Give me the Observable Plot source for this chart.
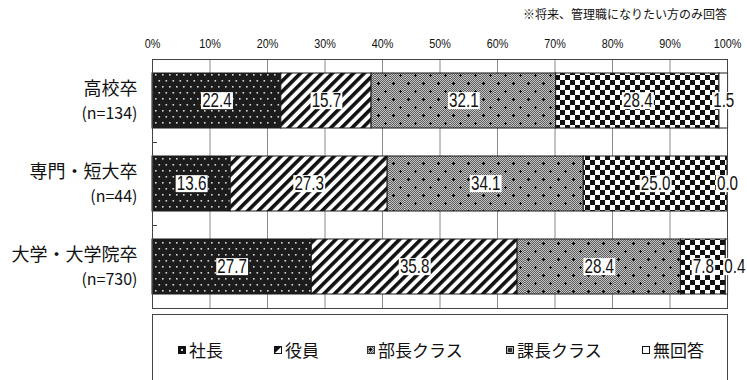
<!DOCTYPE html>
<html><head><meta charset="utf-8">
<script src="https://cdn.jsdelivr.net/npm/d3@7"></script>
<script src="https://cdn.jsdelivr.net/npm/@observablehq/plot@0.6"></script>
<style>
body{margin:0;background:#fff;}
#wrap{position:relative;width:747px;height:380px;overflow:hidden;font-family:"Noto Sans CJK JP",sans-serif;color:#111;}
#chart{position:absolute;left:0;top:0;}
#note{position:absolute;right:20px;top:6px;font-size:12px;line-height:16px;color:#111;white-space:nowrap;}
#legend{position:absolute;left:152px;top:314px;width:576px;height:90px;border:1.5px solid #444;box-sizing:border-box;}
.sw{position:absolute;top:31px;width:8px;height:8px;}
.lt{position:absolute;top:25px;font-size:17px;line-height:20px;white-space:nowrap;}
</style></head>
<body>
<div id="wrap">
  <div id="chart"></div>
  <div id="note">※将来、管理職になりたい方のみ回答</div>
  <div id="legend"></div>
</div>
<script>
const categories = ["高校卒", "専門・短大卒", "大学・大学院卒"];
const sampleSizes = ["(n=134)", "(n=44)", "(n=730)"];
const series = ["社長", "役員", "部長クラス", "課長クラス", "無回答"];
const valuesHighSchool = [22.4, 15.7, 32.1, 28.4, 1.5];
const valuesVocational = [13.6, 27.3, 34.1, 25.0, 0.0];
const valuesUniversity = [27.7, 35.8, 28.4, 7.8, 0.4];
const xTicks = [0, 10, 20, 30, 40, 50, 60, 70, 80, 90, 100];

const allValues = [valuesHighSchool, valuesVocational, valuesUniversity];
const rows = categories.flatMap((cat, i) =>
  series.map((s, j) => ({cat, series: s, value: allValues[i][j]})));

const sans = '"Liberation Sans",Arial,sans-serif';
const cjk = '"Noto Sans CJK JP",sans-serif';

const plot = Plot.plot({
  width: 747, height: 314,
  marginLeft: 152, marginRight: 20, marginTop: 59, marginBottom: 6,
  x: {domain: [0, 100], label: null},
  y: {domain: categories, paddingInner: 0.34, paddingOuter: 0.17, axis: null, label: null},
  color: {domain: series, range: series.map((s, i) => `url(#pat${i})`)},
  style: {background: "#fff", color: "#111"},
  marks: [
    Plot.gridX(xTicks, {stroke: "#8a8a8a", strokeOpacity: 1}),
    Plot.axisX(xTicks, {anchor: "top", tickSize: 0, tickPadding: 12, tickFormat: d => d + "%",
      fontSize: 13.5, fontFamily: sans, label: null}),
    Plot.barX(rows, {x: "value", y: "cat", fill: "series", order: series, stroke: "#1a1a1a", strokeWidth: 1}),
    Plot.frame({stroke: "#444"}),
    Plot.text(rows, Plot.stackX({x: "value", y: "cat", z: "series", order: series,
      text: d => d.value.toFixed(1), fontSize: 20, fontFamily: sans, fill: "#111"})),
    Plot.text(categories, {y: d => d, text: d => d, frameAnchor: "left", textAnchor: "end",
      dx: -15, dy: -12, fontSize: 18, fontFamily: cjk, fill: "#111"}),
    Plot.text(categories, {y: d => d, text: (d, i) => sampleSizes[i], frameAnchor: "left", textAnchor: "end",
      dx: -15, dy: 13, fontSize: 16, fontFamily: cjk, fill: "#111"})
  ]
});
document.getElementById("chart").appendChild(plot);

// patterns
const svg = d3.select(plot);
const defs = svg.insert("defs", ":first-child");
{
  const p = defs.append("pattern").attr("id", "pat0").attr("patternUnits", "userSpaceOnUse")
    .attr("width", 7).attr("height", 12);
  p.append("rect").attr("width", 7).attr("height", 12).attr("fill", "#1c1c1c");
  p.append("rect").attr("x", 1).attr("y", 2).attr("width", 1.6).attr("height", 1.6).attr("fill", "#d8d8d8");
  p.append("rect").attr("x", 4.5).attr("y", 8).attr("width", 1.6).attr("height", 1.6).attr("fill", "#d8d8d8");
}
{
  const p = defs.append("pattern").attr("id", "pat1").attr("patternUnits", "userSpaceOnUse")
    .attr("width", 7.5).attr("height", 7.5).attr("patternTransform", "rotate(45)");
  p.append("rect").attr("width", 7.5).attr("height", 7.5).attr("fill", "#fff");
  p.append("rect").attr("width", 3.6).attr("height", 7.5).attr("fill", "#111");
}
{
  const w = 15, h = 16;
  const p = defs.append("pattern").attr("id", "pat2").attr("patternUnits", "userSpaceOnUse")
    .attr("width", w).attr("height", h);
  p.append("rect").attr("width", w).attr("height", h).attr("fill", "#c4c4c4");
  for (let yy = 0; yy < h; yy++) for (let xx = (yy % 2); xx < w; xx += 2)
    p.append("rect").attr("x", xx).attr("y", yy).attr("width", 1).attr("height", 1).attr("fill", "#5e5e5e");
  for (const [cx, cy] of [[3, 3], [10, 11]]) {
    p.append("rect").attr("x", cx - 1).attr("y", cy).attr("width", 3).attr("height", 1).attr("fill", "#000");
    p.append("rect").attr("x", cx).attr("y", cy - 1).attr("width", 1).attr("height", 3).attr("fill", "#000");
  }
}
{
  const p = defs.append("pattern").attr("id", "pat3").attr("patternUnits", "userSpaceOnUse")
    .attr("width", 10).attr("height", 10);
  p.append("rect").attr("width", 10).attr("height", 10).attr("fill", "#fff");
  p.append("rect").attr("x", 0).attr("y", 0).attr("width", 5).attr("height", 5).attr("fill", "#111");
  p.append("rect").attr("x", 5).attr("y", 5).attr("width", 5).attr("height", 5).attr("fill", "#111");
}
{
  const p = defs.append("pattern").attr("id", "pat4").attr("patternUnits", "userSpaceOnUse")
    .attr("width", 4).attr("height", 4);
  p.append("rect").attr("width", 4).attr("height", 4).attr("fill", "#fff");
}

// horizontally condense numeric text (reference uses a narrow face)
function squeeze(node, s) {
  const x = +node.getAttribute("x") || 0, y = +node.getAttribute("y") || 0;
  const t = node.getAttribute("transform") || "";
  node.setAttribute("transform", `${t} translate(${x},${y}) scale(${s},1) translate(${-x},${-y})`);
}
const textGroups = svg.selectAll('g[aria-label="text"]').nodes();
const valueGroup = textGroups[0];
svg.selectAll('g[aria-label="x-axis tick label"] text').each(function() { squeeze(this, 0.8); });

// white boxes behind value labels
const labelPairs = [];
d3.select(valueGroup).selectAll("text").each(function() {
  squeeze(this, 0.76);
  const b = this.getBBox();
  const cy = b.y + b.height / 2;
  const r = d3.select(valueGroup).insert("rect", () => this)
    .attr("x", b.x - 1.5).attr("y", cy - 8.5).attr("width", b.width + 3).attr("height", 17)
    .attr("fill", "#fff").attr("transform", this.getAttribute("transform"));
  labelPairs.push({text: this, rect: r.node()});
});
// nudge labels that collide with their left neighbour in the same row
{
  const byRow = d3.group(labelPairs, p => Math.round(p.rect.getBoundingClientRect().top));
  for (const [, list] of byRow) {
    list.sort((a, b) => a.rect.getBoundingClientRect().left - b.rect.getBoundingClientRect().left);
    for (let i = 1; i < list.length; i++) {
      const prev = list[i - 1].rect.getBoundingClientRect();
      const cur = list[i].rect.getBoundingClientRect();
      const gap = 8;
      if (cur.left < prev.right + gap) {
        const dx = prev.right + gap - cur.left;
        for (const n of [list[i].text, list[i].rect])
          n.setAttribute("transform", `translate(${dx},0) ` + (n.getAttribute("transform") || ""));
      }
    }
  }
}

// small inward ticks at band boundaries on the left axis
{
  const y = plot.scale("y");
  const step = (y.range[1] - y.range[0]) / categories.length;
  const g = svg.append("g");
  for (let i = 1; i < categories.length; i++) {
    const yy = Math.round(y.range[0] + step * i) + 0.5;
    g.append("line").attr("x1", 152).attr("x2", 157).attr("y1", yy).attr("y2", yy).attr("stroke", "#444");
  }
}

// legend
const legendX = [25, 121, 214, 353, 489];
const swatchSvgs = [
  '<svg class="sw" viewBox="0 0 8 8"><rect width="8" height="8" fill="#111"/><rect x="3" y="3" width="2" height="2" fill="#ddd"/></svg>',
  '<svg class="sw" viewBox="0 0 8 8"><rect x="0.5" y="0.5" width="7" height="7" fill="#fff" stroke="#111"/><polygon points="0,0 8,0 0,8" fill="#111"/></svg>',
  '<svg class="sw" viewBox="0 0 8 8"><rect x="0.5" y="0.5" width="7" height="7" fill="url(#pat2)" stroke="#333"/></svg>',
  '<svg class="sw" viewBox="0 0 8 8"><rect width="8" height="8" fill="#111"/><rect x="1.5" y="1.5" width="5" height="5" fill="#333" stroke="#ddd" stroke-width="0.8"/></svg>',
  '<svg class="sw" viewBox="0 0 8 8"><rect x="0.5" y="0.5" width="7" height="7" fill="#fff" stroke="#111"/></svg>'
];
const legend = document.getElementById("legend");
series.forEach((s, i) => {
  const sw = document.createElement("div");
  sw.innerHTML = swatchSvgs[i];
  const el = sw.firstChild;
  el.style.left = legendX[i] + "px";
  legend.appendChild(el);
  const t = document.createElement("div");
  t.className = "lt";
  t.style.left = (legendX[i] + 11) + "px";
  t.textContent = s;
  legend.appendChild(t);
});
</script>
</body></html>
